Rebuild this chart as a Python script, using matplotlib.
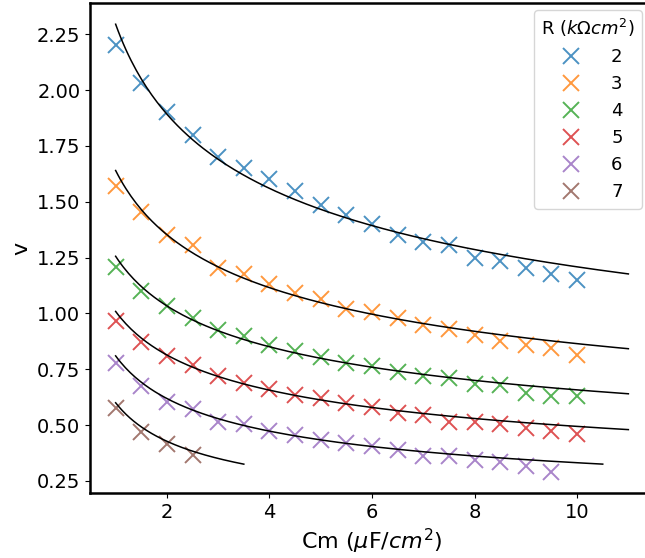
#!/usr/bin/env python3
import numpy as np
import matplotlib.pyplot as plt
plt.switch_backend('agg')

# membrane resistance values (k Ohm cm^2) for each series
r_vals = [2, 3, 4, 5, 6, 7]

# measured velocity vs. capacitance, one list per resistance
cm_2 = [1, 1.5, 2, 2.5, 3, 3.5, 4, 4.5, 5, 5.5, 6, 6.5, 7, 7.5, 8, 8.5, 9, 9.5, 10]
v_2 = [2.20, 2.03, 1.90, 1.80, 1.70, 1.65, 1.60, 1.55, 1.485, 1.44, 1.40,
       1.35, 1.32, 1.305, 1.25, 1.235, 1.205, 1.175, 1.15]
cm_3 = cm_2
v_3 = [1.57, 1.455, 1.35, 1.305, 1.205, 1.175, 1.13, 1.09, 1.065, 1.02, 1.005,
       0.98, 0.95, 0.93, 0.905, 0.875, 0.86, 0.845, 0.815]
cm_4 = cm_2
v_4 = [1.21, 1.10, 1.035, 0.98, 0.925, 0.90, 0.86, 0.83, 0.805, 0.78, 0.765,
       0.74, 0.72, 0.71, 0.685, 0.68, 0.645, 0.63, 0.63]
cm_5 = cm_2
v_5 = [0.965, 0.87, 0.81, 0.77, 0.72, 0.69, 0.66, 0.635, 0.62, 0.60, 0.58,
       0.555, 0.545, 0.515, 0.515, 0.505, 0.485, 0.475, 0.46]
cm_6 = cm_2[:-1]
v_6 = [0.78, 0.675, 0.605, 0.57, 0.515, 0.505, 0.475, 0.455, 0.435, 0.42,
       0.405, 0.39, 0.36, 0.36, 0.345, 0.335, 0.315, 0.29]
cm_7 = [1, 1.5, 2, 2.5]
v_7 = [0.575, 0.47, 0.415, 0.365]

# power-law fits v = a * Cm**b, drawn from Cm=1 to one step past the last point
fit_a = [2.295, 1.64, 1.256, 1.009, 0.81, 0.60]
fit_b = [-0.2785, -0.278, -0.281, -0.310, -0.388, -0.489]
fit_end = [11, 11, 11, 11, 10.5, 3.5]


def main():
    cms = [cm_2, cm_3, cm_4, cm_5, cm_6, cm_7]
    vs = [v_2, v_3, v_4, v_5, v_6, v_7]

    fig = plt.figure(figsize=(6.45, 5.58), dpi=100)
    ax = fig.add_axes([90/645, 65/558, (654-90)/645, 490/558])

    for r, x, y in zip(r_vals, cms, vs):
        ax.plot(x, y, 'x', markersize=11, markeredgewidth=1.4, alpha=0.8,
                label=str(r))
    for a, b, end in zip(fit_a, fit_b, fit_end):
        xx = np.linspace(1, end, 200)
        ax.plot(xx, a * xx**b, color='black', lw=1.1)

    ax.set_xlim(0.5, 11.5)
    ax.set_ylim(0.196, 2.39)
    ax.set_xticks([2, 4, 6, 8, 10])
    ax.set_yticks(np.arange(0.25, 2.26, 0.25))
    ax.yaxis.set_major_formatter(plt.FormatStrFormatter('%.2f'))
    ax.tick_params(labelsize=14)
    for s in ax.spines.values():
        s.set_linewidth(1.8)
    ax.set_xlabel(r'Cm ($\mu$F/$cm^2$)', fontsize=16)
    ax.set_ylabel('v', fontsize=16)

    ax.legend(title=r'R ($k\Omega cm^2$)', fontsize=13, title_fontsize=13,
              loc='upper right', bbox_to_anchor=(642/645, 1 - 10/558),
              bbox_transform=fig.transFigure, borderaxespad=0,
              handletextpad=1.2)
    fig.savefig('out.png')


if __name__ == '__main__':
    main()
